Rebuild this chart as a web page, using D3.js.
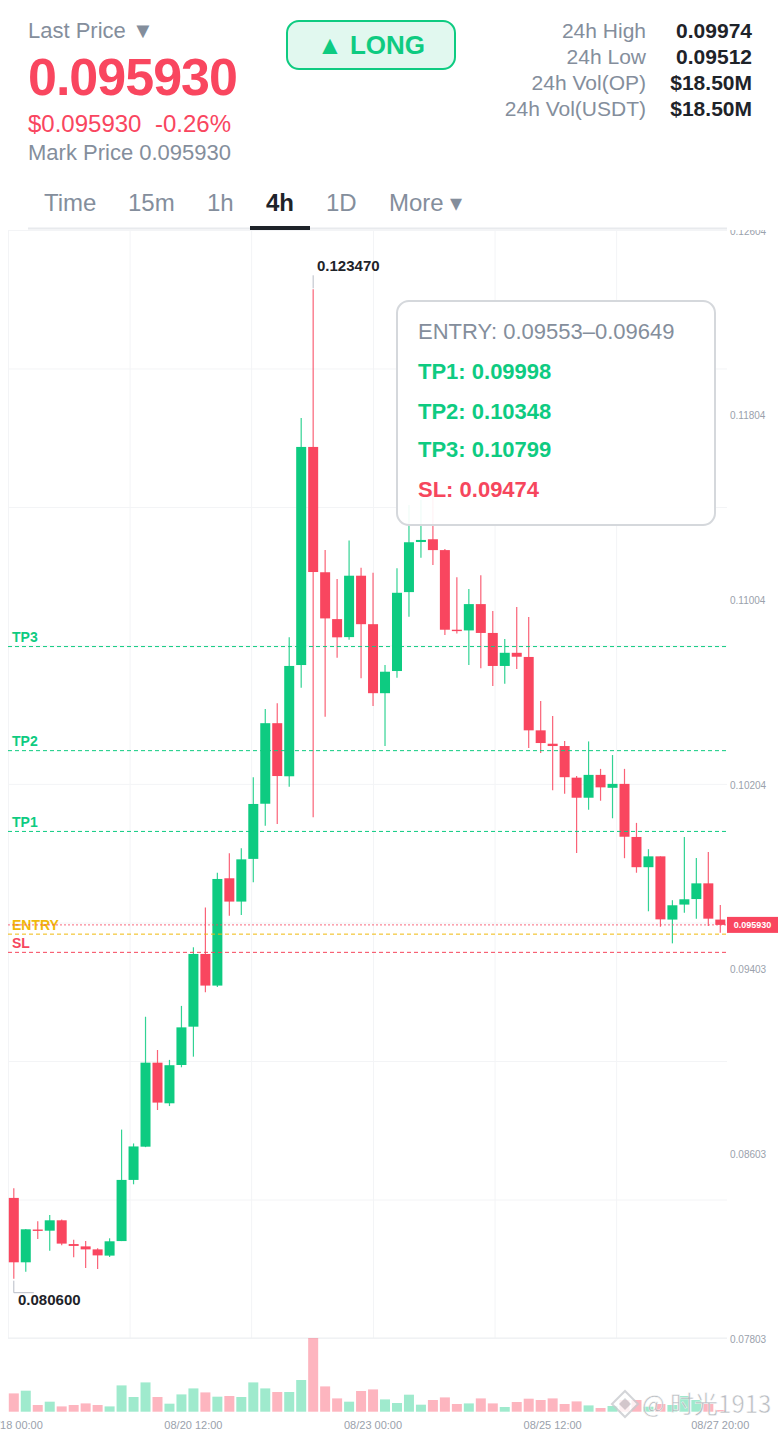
<!DOCTYPE html>
<html lang="en">
<head>
<meta charset="UTF-8">
<title>OP/USDT 4h</title>
<script src="https://d3js.org/d3.v7.min.js"></script>
<style>
  html, body { margin: 0; padding: 0; background: #fff; overflow: hidden; }
  svg { display: block; font-family: "Liberation Sans", Arial, sans-serif; }
  .axis path, .axis line { display: none; }
  .grid path { display: none; }
  .grid line { stroke: #f3f4f6; stroke-width: 1; }
  .axis text { fill: #9aa1ac; font-size: 10px; }
  .axis.time text { font-size: 11px; }
</style>
</head>
<body>
<svg id="chart" width="780" height="1430"></svg>
<script>
// candle data
const opens = [0.08410,0.08131,0.08273,0.08268,0.08313,0.08210,0.08200,0.08187,0.08160,0.08223,
  0.08488,0.08632,0.08996,0.08820,0.08986,0.09152,0.09467,0.09330,0.09795,0.09694,
  0.09879,0.10118,0.10467,0.10237,0.10719,0.11664,0.11121,0.10918,0.10840,0.11106,
  0.10896,0.10597,0.10693,0.11035,0.11252,0.11264,0.11217,0.10872,0.10869,0.10983,
  0.10858,0.10715,0.10772,0.10754,0.10436,0.10378,0.10368,0.10231,0.10144,0.10243,
  0.10187,0.10204,0.09974,0.09843,0.09890,0.09616,0.09681,0.09705,0.09773,0.09616];
const closes = [0.08131,0.08274,0.08267,0.08313,0.08212,0.08202,0.08187,0.08161,0.08222,0.08488,
  0.08633,0.08996,0.08823,0.08985,0.09149,0.09467,0.09330,0.09792,0.09694,0.09877,
  0.10117,0.10467,0.10238,0.10715,0.11664,0.11122,0.10921,0.10839,0.11106,0.10896,
  0.10597,0.10690,0.11032,0.11251,0.11261,0.11217,0.10872,0.10866,0.10983,0.10858,
  0.10715,0.10772,0.10755,0.10436,0.10381,0.10368,0.10233,0.10144,0.10243,0.10189,
  0.10204,0.09975,0.09843,0.09890,0.09617,0.09678,0.09704,0.09773,0.09620,0.09593];
const highs = [0.08452,0.08275,0.08309,0.08336,0.08317,0.08229,0.08223,0.08192,0.08235,0.08706,
  0.08646,0.09195,0.09051,0.09008,0.09242,0.09496,0.09668,0.09819,0.09903,0.09925,
  0.10233,0.10528,0.10553,0.10839,0.11789,0.12347,0.11217,0.11092,0.11259,0.11141,
  0.11119,0.10719,0.11138,0.11412,0.11434,0.11477,0.11222,0.11099,0.11048,0.11108,
  0.10953,0.10832,0.10970,0.10927,0.10563,0.10498,0.10390,0.10238,0.10388,0.10269,
  0.10329,0.10269,0.10035,0.09921,0.09890,0.09700,0.09974,0.09883,0.09909,0.09679];
const lows = [0.08060,0.08090,0.08232,0.08181,0.08205,0.08153,0.08106,0.08102,0.08154,0.08223,
  0.08469,0.08630,0.08791,0.08808,0.08976,0.09022,0.09301,0.09324,0.09633,0.09636,
  0.09778,0.10023,0.10030,0.10192,0.10621,0.10059,0.10495,0.10751,0.10829,0.10662,
  0.10542,0.10368,0.10664,0.10928,0.11184,0.11152,0.10849,0.10856,0.10719,0.10705,
  0.10628,0.10638,0.10702,0.10359,0.10338,0.10176,0.10161,0.09905,0.10092,0.10131,
  0.10055,0.09882,0.09819,0.09652,0.09585,0.09513,0.09646,0.09620,0.09588,0.09559];
const volumes = [18.3,21,6.7,10,5.3,6.7,8.3,6.7,5.3,26.3,
  14.7,29.3,14.7,8,17.3,23.3,19.3,15,15.7,14.7,
  29.3,23.3,19.7,19.7,31.7,73.7,25.3,13.3,10,20.7,
  22.3,12.3,8.7,17,7,11.7,14.3,7.7,8.3,13.3,
  8.3,4.7,9.7,13,11.7,13.3,7.7,10.3,6.3,3.7,
  5.7,11.7,11.7,5,7.7,6.7,15.7,11.7,7.7,1.7];

const priceTicks = [0.12604,0.11804,0.11004,0.10204,0.09403,0.08603,0.07803];
const priceGrid = [0.12604,0.12004,0.11404,0.10804,0.10204,0.09603,0.09003,0.08403,0.07803];
const timeTicks = [0,15,30,45,59];
const timeLabels = ["08/18 00:00","08/20 12:00","08/23 00:00","08/25 12:00","08/27 20:00"];
const timeGrid = [-0.48,9.67,19.82,30,40.15,50.3];

const levelNames = ["TP3","TP2","TP1","ENTRY","SL"];
const levelPrices = [0.10799,0.10348,0.09998,0.09553,0.09474];
const levelColors = ["#0ecb81","#0ecb81","#0ecb81","#f0b90b","#f6465d"];
const lastPrice = 0.09593;

const statNames = ["24h High","24h Low","24h Vol(OP)","24h Vol(USDT)"];
const statValues = ["0.09974","0.09512","$18.50M","$18.50M"];
const tabNames = ["Time","15m","1h","4h","1D","More ▾"];
const tabX = [44,128,207,266,326,389];
const planLines = ["ENTRY: 0.09553–0.09649","TP1: 0.09998","TP2: 0.10348","TP3: 0.10799","SL: 0.09474"];
const planColors = ["#848e9c","#0ecb81","#0ecb81","#0ecb81","#f6465d"];
const planY = [331,371,411,449,489];

const green = "#0ecb81", red = "#f9465f", dark = "#1e2329", gray = "#848e9c";
const svg = d3.select("#chart");

const plotTop = 230, plotBottom = 1338, plotLeft = 8, plotRight = 727, volBase = 1411.7;
const x = d3.scaleLinear().domain([0, 59]).range([13.8, 720.3]);
const y = d3.scaleLinear().domain([0.12604, 0.07803]).range([plotTop, plotBottom]);
const v = d3.scaleLinear().domain([0, 73.7]).range([volBase, plotBottom]);
const candles = opens.map((o, i) => ({ i, o, c: closes[i], h: highs[i], l: lows[i], vol: volumes[i], up: closes[i] >= o }));

svg.append("defs").append("clipPath").attr("id", "paneClip")
  .append("rect").attr("x", 0).attr("y", 229).attr("width", 780).attr("height", 1201);

// grid
svg.append("g").attr("class", "grid").attr("transform", `translate(0,${plotBottom})`)
  .call(d3.axisBottom(x).tickValues(timeGrid).tickSize(plotTop - plotBottom).tickFormat(""));
svg.append("g").attr("class", "grid").attr("transform", `translate(${plotLeft},0)`)
  .call(d3.axisRight(y).tickValues(priceGrid).tickSize(plotRight - plotLeft).tickFormat(""));
svg.append("line").attr("x1", plotLeft).attr("x2", plotRight).attr("y1", plotBottom).attr("y2", plotBottom)
  .attr("stroke", "#eef0f2").attr("stroke-width", 1.2);

// axes
svg.append("g").attr("class", "axis").attr("clip-path", "url(#paneClip)")
  .attr("transform", `translate(${plotRight - 6},1)`)
  .call(d3.axisRight(y).tickValues(priceTicks).tickFormat(d3.format(".5f")));
svg.append("g").attr("class", "axis time").attr("transform", "translate(-0.5,1412)")
  .call(d3.axisBottom(x).tickValues(timeTicks).tickFormat((d, i) => timeLabels[i]));

// volume
svg.append("g").selectAll("rect").data(candles).join("rect")
  .attr("x", d => x(d.i) - 5).attr("width", 10)
  .attr("y", d => v(d.vol)).attr("height", d => volBase - v(d.vol))
  .attr("fill", d => d.up ? green : red).attr("opacity", 0.4);

// candles
const candle = svg.append("g").selectAll("g").data(candles).join("g")
  .attr("fill", d => d.up ? green : red).attr("stroke", d => d.up ? green : red);
candle.append("line")
  .attr("x1", d => x(d.i)).attr("x2", d => x(d.i))
  .attr("y1", d => y(d.h)).attr("y2", d => y(d.l))
  .attr("stroke-width", 1.2).attr("stroke-opacity", 0.85);
candle.append("rect")
  .attr("x", d => x(d.i) - 5).attr("width", 10)
  .attr("y", d => y(Math.max(d.o, d.c)))
  .attr("height", d => Math.max(1.2, Math.abs(y(d.o) - y(d.c))))
  .attr("stroke", "none");

// level lines
svg.append("g").selectAll("line").data(levelPrices).join("line")
  .attr("x1", plotLeft).attr("x2", plotRight)
  .attr("y1", d => y(d)).attr("y2", d => y(d))
  .attr("stroke", (d, i) => levelColors[i])
  .attr("stroke-width", 1).attr("stroke-dasharray", "4 3");
svg.append("g").selectAll("text").data(levelNames).join("text")
  .attr("x", 12).attr("y", (d, i) => y(levelPrices[i]) - 4.5)
  .attr("fill", (d, i) => levelColors[i])
  .attr("font-size", 14).attr("font-weight", 700).text(d => d);

// last price
svg.append("line").attr("x1", plotLeft).attr("x2", plotRight).attr("y1", y(lastPrice)).attr("y2", y(lastPrice))
  .attr("stroke", red).attr("stroke-dasharray", "2 2").attr("opacity", 0.8);
svg.append("rect").attr("x", 727).attr("y", y(lastPrice) - 8).attr("width", 51).attr("height", 16).attr("fill", red);
svg.append("text").attr("x", 752.5).attr("y", y(lastPrice) + 3.5).attr("text-anchor", "middle")
  .attr("fill", "#fff").attr("font-size", 9).attr("font-weight", 700).text("0.095930");

// high / low markers
const hi = candles[25], lo = candles[0];
svg.append("line").attr("x1", x(hi.i)).attr("x2", x(hi.i)).attr("y1", y(hi.h) - 14).attr("y2", y(hi.h) - 1)
  .attr("stroke", "#b8bcc6");
svg.append("text").attr("x", 317).attr("y", 271).attr("fill", dark)
  .attr("font-size", 15).attr("font-weight", 700).text("0.123470");
svg.append("path").attr("fill", "none").attr("stroke", "#b8bcc6")
  .attr("d", d3.line()([[x(lo.i), y(lo.l) + 2], [x(lo.i), y(lo.l) + 14], [x(lo.i) + 20, y(lo.l) + 14]]));
svg.append("text").attr("x", 18).attr("y", 1305).attr("fill", dark)
  .attr("font-size", 15).attr("font-weight", 700).text("0.080600");

// plan box
svg.append("rect").attr("x", 397).attr("y", 301).attr("width", 318).attr("height", 224).attr("rx", 12)
  .attr("fill", "#fff").attr("fill-opacity", 0.92).attr("stroke", "#d5d8dc").attr("stroke-width", 2);
svg.append("g").selectAll("text").data(planLines).join("text")
  .attr("x", 418).attr("y", (d, i) => planY[i] + 7.5)
  .attr("fill", (d, i) => planColors[i])
  .attr("font-size", 22).attr("font-weight", (d, i) => i ? 700 : 400).text(d => d);

// header
svg.append("text").attr("x", 28).attr("y", 38).attr("fill", gray).attr("font-size", 22).text("Last Price ▼");
svg.append("text").attr("x", 28).attr("y", 94.5).attr("fill", red).attr("font-size", 52).attr("font-weight", 700)
  .attr("letter-spacing", -1).text("0.095930");
svg.append("text").attr("x", 28).attr("y", 132).attr("fill", red).attr("font-size", 24).text("$0.095930");
svg.append("text").attr("x", 155).attr("y", 132).attr("fill", red).attr("font-size", 24).text("-0.26%");
svg.append("text").attr("x", 28).attr("y", 160).attr("fill", gray).attr("font-size", 22).text("Mark Price 0.095930");

svg.append("rect").attr("x", 287).attr("y", 21).attr("width", 168).attr("height", 48).attr("rx", 12)
  .attr("fill", "#e1f8ef").attr("stroke", green).attr("stroke-width", 2);
svg.append("text").attr("x", 371).attr("y", 54).attr("text-anchor", "middle").attr("fill", green)
  .attr("font-size", 26).attr("font-weight", 700).text("▲ LONG");

svg.append("g").selectAll("text").data(statNames).join("text")
  .attr("x", 646).attr("y", (d, i) => 38 + i * 26).attr("text-anchor", "end")
  .attr("fill", gray).attr("font-size", 21).text(d => d);
svg.append("g").selectAll("text").data(statValues).join("text")
  .attr("x", 752).attr("y", (d, i) => 38 + i * 26).attr("text-anchor", "end")
  .attr("fill", dark).attr("font-size", 21).attr("font-weight", 700).text(d => d);

// tabs
svg.append("g").selectAll("text").data(tabNames).join("text")
  .attr("x", (d, i) => tabX[i]).attr("y", 210.5)
  .attr("fill", d => d === "4h" ? dark : gray)
  .attr("font-size", 24).attr("font-weight", d => d === "4h" ? 700 : 400).text(d => d);
svg.append("line").attr("x1", 28).attr("x2", 727).attr("y1", 228.5).attr("y2", 228.5)
  .attr("stroke", "#e8eaed").attr("stroke-width", 2);
svg.append("rect").attr("x", 250).attr("y", 226).attr("width", 60).attr("height", 4).attr("fill", dark);

// watermark
const mark = svg.append("g").attr("opacity", 0.8);
mark.append("path").attr("d", "M625 1391 L638 1404 L625 1417 L612 1404 Z")
  .attr("fill", "#fff").attr("stroke", "#c9cbcf").attr("stroke-width", 2);
mark.append("path").attr("d", "M625 1398 L631 1404 L625 1410 L619 1404 Z").attr("fill", "#c9cbcf");
mark.append("text").attr("x", 642).attr("y", 1413).attr("fill", "#a9adb3").attr("stroke", "#fff").attr("stroke-width", 0.5)
  .attr("font-family", "Noto Sans CJK SC").attr("font-size", 24).text("@ 时光1913");
</script>
</body>
</html>
